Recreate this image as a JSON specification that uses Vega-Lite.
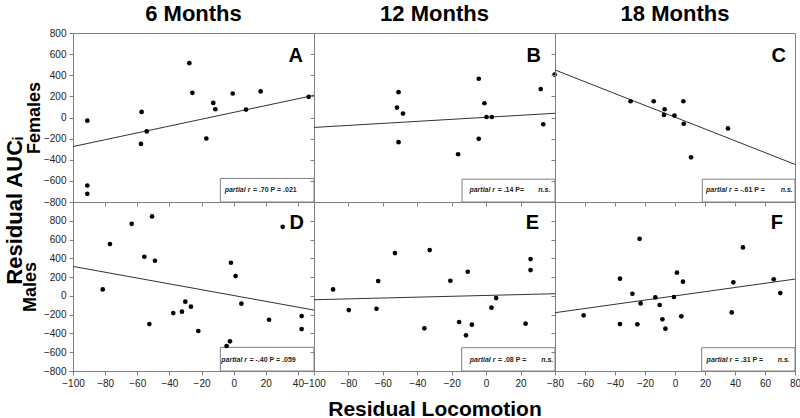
{
"$schema": "https://vega.github.io/schema/vega-lite/v6.json",
"padding": {"top": 2, "left": 3, "right": 0, "bottom": 0},
"title": {"text": "Residual AUCᵢ", "orient": "left", "anchor": "middle", "fontSize": 22, "fontWeight": "bold", "font": "Liberation Sans", "color": "#000", "offset": -6},
"config": {
  "view": {"stroke": "#808080", "strokeWidth": 1},
  "font": "Liberation Sans",
  "axis": {"domain": false, "grid": false, "tickColor": "#808080", "tickSize": 4, "labelFont": "Liberation Sans", "labelFontSize": 10, "labelColor": "#222", "labelPadding": 3, "labelOverlap": false, "labelFlush": false, "titleFont": "Liberation Sans", "titleFontWeight": "bold", "titleColor": "#000", "titleFontSize": 18},
  "title": {"font": "Liberation Sans", "fontSize": 22, "fontWeight": "bold", "color": "#000", "offset": 7}
},
"datasets": {
  "points": [
    {"p":"A","x":-91.1,"y":-30},{"p":"A","x":-91.1,"y":-644},{"p":"A","x":-91.1,"y":-723},{"p":"A","x":-57.3,"y":53},{"p":"A","x":-57.7,"y":-250},{"p":"A","x":-54.1,"y":-132},{"p":"A","x":-27.6,"y":514},{"p":"A","x":-25.7,"y":234},{"p":"A","x":-17.0,"y":-199},{"p":"A","x":-12.7,"y":138},{"p":"A","x":-11.4,"y":78},{"p":"A","x":-0.6,"y":227},{"p":"A","x":7.7,"y":75},{"p":"A","x":16.8,"y":247},{"p":"A","x":46.7,"y":196},
    {"p":"B","x":-50.9,"y":240},{"p":"B","x":-51.8,"y":94},{"p":"B","x":-48.3,"y":37},{"p":"B","x":-50.9,"y":-234},{"p":"B","x":-16.3,"y":-348},{"p":"B","x":-4.3,"y":367},{"p":"B","x":-4.3,"y":-202},{"p":"B","x":-1.0,"y":135},{"p":"B","x":0.2,"y":5},{"p":"B","x":3.3,"y":5},{"p":"B","x":31.7,"y":269},{"p":"B","x":33.2,"y":-65},{"p":"B","x":39.8,"y":406},
    {"p":"C","x":-29.6,"y":154},{"p":"C","x":-14.2,"y":154},{"p":"C","x":-6.9,"y":78},{"p":"C","x":-7.3,"y":24},{"p":"C","x":-0.4,"y":18},{"p":"C","x":5.6,"y":154},{"p":"C","x":5.8,"y":-59},{"p":"C","x":10.7,"y":-377},{"p":"C","x":35.3,"y":-103},
    {"p":"D","x":-81.5,"y":69},{"p":"D","x":-77.0,"y":552},{"p":"D","x":-63.5,"y":768},{"p":"D","x":-50.8,"y":846},{"p":"D","x":-55.6,"y":417},{"p":"D","x":-49.0,"y":374},{"p":"D","x":-52.5,"y":-300},{"p":"D","x":-37.6,"y":-183},{"p":"D","x":-32.2,"y":-168},{"p":"D","x":-30.1,"y":-62},{"p":"D","x":-26.6,"y":-115},{"p":"D","x":-22.0,"y":-374},{"p":"D","x":-1.7,"y":353},{"p":"D","x":1.2,"y":211},{"p":"D","x":4.8,"y":-83},{"p":"D","x":-2.3,"y":-484},{"p":"D","x":-4.4,"y":-534},{"p":"D","x":22.0,"y":-254},{"p":"D","x":30.5,"y":736},{"p":"D","x":42.3,"y":-215},{"p":"D","x":42.3,"y":-353},
    {"p":"E","x":-88.9,"y":69},{"p":"E","x":-79.8,"y":-151},{"p":"E","x":-63.7,"y":-137},{"p":"E","x":-62.7,"y":158},{"p":"E","x":-53.0,"y":456},{"p":"E","x":-35.9,"y":-346},{"p":"E","x":-32.8,"y":488},{"p":"E","x":-20.8,"y":161},{"p":"E","x":-15.7,"y":-278},{"p":"E","x":-11.7,"y":-420},{"p":"E","x":-10.7,"y":257},{"p":"E","x":-8.3,"y":-307},{"p":"E","x":3.1,"y":-126},{"p":"E","x":5.8,"y":-23},{"p":"E","x":22.9,"y":-296},{"p":"E","x":25.8,"y":392},{"p":"E","x":25.8,"y":275},
    {"p":"F","x":-60.9,"y":-207},{"p":"F","x":-36.7,"y":183},{"p":"F","x":-36.7,"y":-300},{"p":"F","x":-28.4,"y":23},{"p":"F","x":-23.6,"y":608},{"p":"F","x":-22.9,"y":-80},{"p":"F","x":-25.1,"y":-303},{"p":"F","x":-13.1,"y":-16},{"p":"F","x":-10.2,"y":-97},{"p":"F","x":-8.4,"y":-250},{"p":"F","x":-6.4,"y":-349},{"p":"F","x":-0.7,"y":-12},{"p":"F","x":1.3,"y":247},{"p":"F","x":5.3,"y":151},{"p":"F","x":4.2,"y":-218},{"p":"F","x":37.8,"y":-176},{"p":"F","x":38.9,"y":144},{"p":"F","x":45.3,"y":516},{"p":"F","x":65.8,"y":176},{"p":"F","x":70.2,"y":30}
  ],
  "lines": [
    {"p":"A","x":-100,"y":-275},{"p":"A","x":50,"y":210},
    {"p":"B","x":-100,"y":-94},{"p":"B","x":40,"y":40},
    {"p":"C","x":-80,"y":450},{"p":"C","x":80,"y":-444},
    {"p":"D","x":-100,"y":314},{"p":"D","x":50,"y":-151},
    {"p":"E","x":-100,"y":-41},{"p":"E","x":40,"y":23},
    {"p":"F","x":-80,"y":-179},{"p":"F","x":80,"y":179}
  ],
  "boxes": [
    {"p":"A","x":-8.3,"x2":50,"y":-577,"y2":-800},
    {"p":"B","x":-14,"x2":40,"y":-584,"y2":-800},
    {"p":"C","x":18.2,"x2":80,"y":-584,"y2":-800},
    {"p":"D","x":-8.3,"x2":50,"y":-548,"y2":-800},
    {"p":"E","x":-14.2,"x2":40,"y":-552,"y2":-800},
    {"p":"F","x":17.8,"x2":80,"y":-552,"y2":-800}
  ],
  "letters": [
    {"p":"A","letter":"A","x":50,"y":800},{"p":"B","letter":"B","x":40,"y":800},{"p":"C","letter":"C","x":80,"y":800},
    {"p":"D","letter":"D","x":50,"y":1000},{"p":"E","letter":"E","x":40,"y":1000},{"p":"F","letter":"F","x":80,"y":1000}
  ],
  "notes": [
    {"p":"A","x":10.4,"y":-686,"t1":"partial r","t2":"= .70 P = .021"},
    {"p":"B","x":5.2,"y":-686,"t1":"partial r","t2":"= .14 P="},
    {"p":"C","x":37.8,"y":-686,"t1":"partial r","t2":"= -.61 P ="},
    {"p":"D","x":8.3,"y":-679,"t1":"partial r","t2":"= -.40 P = .059"},
    {"p":"E","x":5.4,"y":-679,"t1":"partial r","t2":"= .08 P ="},
    {"p":"F","x":38.2,"y":-679,"t1":"partial r","t2":"= .31 P ="}
  ],
  "notes3": [
    {"p":"B","x":30.3,"y":-686,"t3":"n.s."},
    {"p":"C","x":70.5,"y":-686,"t3":"n.s."},
    {"p":"E","x":32.0,"y":-679,"t3":"n.s."},
    {"p":"F","x":68.5,"y":-679,"t3":"n.s."}
  ]
},
"columns": 3,
"spacing": 0,
"bounds": "flush",
"concat": [
  {
    "width": 241, "height": 169,
    "title": {"text": "6 Months", "offset": 2},
    "encoding": {
      "x": {"field":"x","type":"quantitative","scale":{"domain":[-100,50],"nice":false,"zero":false},"axis":{"values":[-100,-80,-60,-40,-20,0,20,40],"labels":false,"title":null}},
      "y": {"field":"y","type":"quantitative","scale":{"domain":[-800,800],"nice":false,"zero":false},"axis":{"values":[-800,-600,-400,-200,0,200,400,600,800],"title":"Females","titlePadding":0}}
    },
    "layer": [
      {"data":{"name":"boxes"},"transform":[{"filter":"datum.p==='A'"}],"mark":{"type":"rect","fill":"white","stroke":"#808080","strokeWidth":1},"encoding":{"x2":{"field":"x2"},"y2":{"field":"y2"}}},
      {"data":{"name":"lines"},"transform":[{"filter":"datum.p==='A'"}],"mark":{"type":"line","color":"#333","strokeWidth":1,"clip":true},"encoding":{}},
      {"data":{"name":"points"},"transform":[{"filter":"datum.p==='A'"}],"mark":{"type":"circle","size":22,"color":"#000","opacity":1},"encoding":{}},
      {"data":{"name":"letters"},"transform":[{"filter":"datum.p==='A'"}],"mark":{"type":"text","align":"right","baseline":"alphabetic","dx":-11,"dy":29,"fontSize":20,"fontWeight":"bold","color":"#000"},"encoding":{"text":{"field":"letter"}}},
      {"data":{"name":"notes"},"transform":[{"filter":"datum.p==='A'"}],"mark":{"type":"text","align":"right","baseline":"middle","fontStyle":"italic","fontWeight":"bold","fontSize":7,"color":"#222"},"encoding":{"text":{"field":"t1"}}},
      {"data":{"name":"notes"},"transform":[{"filter":"datum.p==='A'"}],"mark":{"type":"text","align":"left","baseline":"middle","dx":2.5,"fontWeight":"bold","fontSize":7,"color":"#222"},"encoding":{"text":{"field":"t2"}}}
    ]
  },
  {
    "width": 241, "height": 169,
    "title": {"text": "12 Months"},
    "encoding": {
      "x": {"field":"x","type":"quantitative","scale":{"domain":[-100,40],"nice":false,"zero":false},"axis":{"values":[-100,-80,-60,-40,-20,0,20],"labels":false,"title":null}},
      "y": {"field":"y","type":"quantitative","scale":{"domain":[-800,800],"nice":false,"zero":false},"axis":{"values":[-800,-600,-400,-200,0,200,400,600,800],"labels":false,"title":null}}
    },
    "layer": [
      {"data":{"name":"boxes"},"transform":[{"filter":"datum.p==='B'"}],"mark":{"type":"rect","fill":"white","stroke":"#808080","strokeWidth":1},"encoding":{"x2":{"field":"x2"},"y2":{"field":"y2"}}},
      {"data":{"name":"lines"},"transform":[{"filter":"datum.p==='B'"}],"mark":{"type":"line","color":"#333","strokeWidth":1,"clip":true},"encoding":{}},
      {"data":{"name":"points"},"transform":[{"filter":"datum.p==='B'"}],"mark":{"type":"circle","size":22,"color":"#000","opacity":1},"encoding":{}},
      {"data":{"name":"letters"},"transform":[{"filter":"datum.p==='B'"}],"mark":{"type":"text","align":"right","baseline":"alphabetic","dx":-14,"dy":29,"fontSize":20,"fontWeight":"bold","color":"#000"},"encoding":{"text":{"field":"letter"}}},
      {"data":{"name":"notes"},"transform":[{"filter":"datum.p==='B'"}],"mark":{"type":"text","align":"right","baseline":"middle","fontStyle":"italic","fontWeight":"bold","fontSize":7,"color":"#222"},"encoding":{"text":{"field":"t1"}}},
      {"data":{"name":"notes"},"transform":[{"filter":"datum.p==='B'"}],"mark":{"type":"text","align":"left","baseline":"middle","dx":2.5,"fontWeight":"bold","fontSize":7,"color":"#222"},"encoding":{"text":{"field":"t2"}}},
      {"data":{"name":"notes3"},"transform":[{"filter":"datum.p==='B'"}],"mark":{"type":"text","align":"left","baseline":"middle","fontStyle":"italic","fontWeight":"bold","fontSize":7,"color":"#222"},"encoding":{"text":{"field":"t3"}}}
    ]
  },
  {
    "width": 240, "height": 169,
    "title": {"text": "18 Months"},
    "encoding": {
      "x": {"field":"x","type":"quantitative","scale":{"domain":[-80,80],"nice":false,"zero":false},"axis":{"values":[-80,-60,-40,-20,0,20,40,60,80],"labels":false,"title":null}},
      "y": {"field":"y","type":"quantitative","scale":{"domain":[-800,800],"nice":false,"zero":false},"axis":{"values":[-800,-600,-400,-200,0,200,400,600,800],"labels":false,"title":null}}
    },
    "layer": [
      {"data":{"name":"boxes"},"transform":[{"filter":"datum.p==='C'"}],"mark":{"type":"rect","fill":"white","stroke":"#808080","strokeWidth":1},"encoding":{"x2":{"field":"x2"},"y2":{"field":"y2"}}},
      {"data":{"name":"lines"},"transform":[{"filter":"datum.p==='C'"}],"mark":{"type":"line","color":"#333","strokeWidth":1,"clip":true},"encoding":{}},
      {"data":{"name":"points"},"transform":[{"filter":"datum.p==='C'"}],"mark":{"type":"circle","size":22,"color":"#000","opacity":1},"encoding":{}},
      {"data":{"name":"letters"},"transform":[{"filter":"datum.p==='C'"}],"mark":{"type":"text","align":"right","baseline":"alphabetic","dx":-9,"dy":29,"fontSize":20,"fontWeight":"bold","color":"#000"},"encoding":{"text":{"field":"letter"}}},
      {"data":{"name":"notes"},"transform":[{"filter":"datum.p==='C'"}],"mark":{"type":"text","align":"right","baseline":"middle","fontStyle":"italic","fontWeight":"bold","fontSize":7,"color":"#222"},"encoding":{"text":{"field":"t1"}}},
      {"data":{"name":"notes"},"transform":[{"filter":"datum.p==='C'"}],"mark":{"type":"text","align":"left","baseline":"middle","dx":2.5,"fontWeight":"bold","fontSize":7,"color":"#222"},"encoding":{"text":{"field":"t2"}}},
      {"data":{"name":"notes3"},"transform":[{"filter":"datum.p==='C'"}],"mark":{"type":"text","align":"left","baseline":"middle","fontStyle":"italic","fontWeight":"bold","fontSize":7,"color":"#222"},"encoding":{"text":{"field":"t3"}}}
    ]
  },
  {
    "width": 241, "height": 169,
    "encoding": {
      "x": {"field":"x","type":"quantitative","scale":{"domain":[-100,50],"nice":false,"zero":false},"axis":{"values":[-100,-80,-60,-40,-20,0,20,40],"title":null}},
      "y": {"field":"y","type":"quantitative","scale":{"domain":[-800,1000],"nice":false,"zero":false},"axis":{"values":[-800,-600,-400,-200,0,200,400,600,800],"title":"Males","titlePadding":4}}
    },
    "layer": [
      {"data":{"name":"boxes"},"transform":[{"filter":"datum.p==='D'"}],"mark":{"type":"rect","fill":"white","stroke":"#808080","strokeWidth":1},"encoding":{"x2":{"field":"x2"},"y2":{"field":"y2"}}},
      {"data":{"name":"lines"},"transform":[{"filter":"datum.p==='D'"}],"mark":{"type":"line","color":"#333","strokeWidth":1,"clip":true},"encoding":{}},
      {"data":{"name":"points"},"transform":[{"filter":"datum.p==='D'"}],"mark":{"type":"circle","size":22,"color":"#000","opacity":1},"encoding":{}},
      {"data":{"name":"letters"},"transform":[{"filter":"datum.p==='D'"}],"mark":{"type":"text","align":"right","baseline":"alphabetic","dx":-10,"dy":27,"fontSize":20,"fontWeight":"bold","color":"#000"},"encoding":{"text":{"field":"letter"}}},
      {"data":{"name":"notes"},"transform":[{"filter":"datum.p==='D'"}],"mark":{"type":"text","align":"right","baseline":"middle","fontStyle":"italic","fontWeight":"bold","fontSize":7,"color":"#222"},"encoding":{"text":{"field":"t1"}}},
      {"data":{"name":"notes"},"transform":[{"filter":"datum.p==='D'"}],"mark":{"type":"text","align":"left","baseline":"middle","dx":2.5,"fontWeight":"bold","fontSize":7,"color":"#222"},"encoding":{"text":{"field":"t2"}}}
    ]
  },
  {
    "width": 241, "height": 169,
    "encoding": {
      "x": {"field":"x","type":"quantitative","scale":{"domain":[-100,40],"nice":false,"zero":false},"axis":{"values":[-100,-80,-60,-40,-20,0,20],"title":"Residual Locomotion","titleFontSize":21,"titlePadding":10}},
      "y": {"field":"y","type":"quantitative","scale":{"domain":[-800,1000],"nice":false,"zero":false},"axis":{"values":[-800,-600,-400,-200,0,200,400,600,800],"labels":false,"title":null}}
    },
    "layer": [
      {"data":{"name":"boxes"},"transform":[{"filter":"datum.p==='E'"}],"mark":{"type":"rect","fill":"white","stroke":"#808080","strokeWidth":1},"encoding":{"x2":{"field":"x2"},"y2":{"field":"y2"}}},
      {"data":{"name":"lines"},"transform":[{"filter":"datum.p==='E'"}],"mark":{"type":"line","color":"#333","strokeWidth":1,"clip":true},"encoding":{}},
      {"data":{"name":"points"},"transform":[{"filter":"datum.p==='E'"}],"mark":{"type":"circle","size":22,"color":"#000","opacity":1},"encoding":{}},
      {"data":{"name":"letters"},"transform":[{"filter":"datum.p==='E'"}],"mark":{"type":"text","align":"right","baseline":"alphabetic","dx":-16,"dy":27,"fontSize":20,"fontWeight":"bold","color":"#000"},"encoding":{"text":{"field":"letter"}}},
      {"data":{"name":"notes"},"transform":[{"filter":"datum.p==='E'"}],"mark":{"type":"text","align":"right","baseline":"middle","fontStyle":"italic","fontWeight":"bold","fontSize":7,"color":"#222"},"encoding":{"text":{"field":"t1"}}},
      {"data":{"name":"notes"},"transform":[{"filter":"datum.p==='E'"}],"mark":{"type":"text","align":"left","baseline":"middle","dx":2.5,"fontWeight":"bold","fontSize":7,"color":"#222"},"encoding":{"text":{"field":"t2"}}},
      {"data":{"name":"notes3"},"transform":[{"filter":"datum.p==='E'"}],"mark":{"type":"text","align":"left","baseline":"middle","fontStyle":"italic","fontWeight":"bold","fontSize":7,"color":"#222"},"encoding":{"text":{"field":"t3"}}}
    ]
  },
  {
    "width": 240, "height": 169,
    "encoding": {
      "x": {"field":"x","type":"quantitative","scale":{"domain":[-80,80],"nice":false,"zero":false},"axis":{"values":[-80,-60,-40,-20,0,20,40,60,80],"title":null}},
      "y": {"field":"y","type":"quantitative","scale":{"domain":[-800,1000],"nice":false,"zero":false},"axis":{"values":[-800,-600,-400,-200,0,200,400,600,800],"labels":false,"title":null}}
    },
    "layer": [
      {"data":{"name":"boxes"},"transform":[{"filter":"datum.p==='F'"}],"mark":{"type":"rect","fill":"white","stroke":"#808080","strokeWidth":1},"encoding":{"x2":{"field":"x2"},"y2":{"field":"y2"}}},
      {"data":{"name":"lines"},"transform":[{"filter":"datum.p==='F'"}],"mark":{"type":"line","color":"#333","strokeWidth":1,"clip":true},"encoding":{}},
      {"data":{"name":"points"},"transform":[{"filter":"datum.p==='F'"}],"mark":{"type":"circle","size":22,"color":"#000","opacity":1},"encoding":{}},
      {"data":{"name":"letters"},"transform":[{"filter":"datum.p==='F'"}],"mark":{"type":"text","align":"right","baseline":"alphabetic","dx":-12,"dy":27,"fontSize":20,"fontWeight":"bold","color":"#000"},"encoding":{"text":{"field":"letter"}}},
      {"data":{"name":"notes"},"transform":[{"filter":"datum.p==='F'"}],"mark":{"type":"text","align":"right","baseline":"middle","fontStyle":"italic","fontWeight":"bold","fontSize":7,"color":"#222"},"encoding":{"text":{"field":"t1"}}},
      {"data":{"name":"notes"},"transform":[{"filter":"datum.p==='F'"}],"mark":{"type":"text","align":"left","baseline":"middle","dx":2.5,"fontWeight":"bold","fontSize":7,"color":"#222"},"encoding":{"text":{"field":"t2"}}},
      {"data":{"name":"notes3"},"transform":[{"filter":"datum.p==='F'"}],"mark":{"type":"text","align":"left","baseline":"middle","fontStyle":"italic","fontWeight":"bold","fontSize":7,"color":"#222"},"encoding":{"text":{"field":"t3"}}}
    ]
  }
]
}
